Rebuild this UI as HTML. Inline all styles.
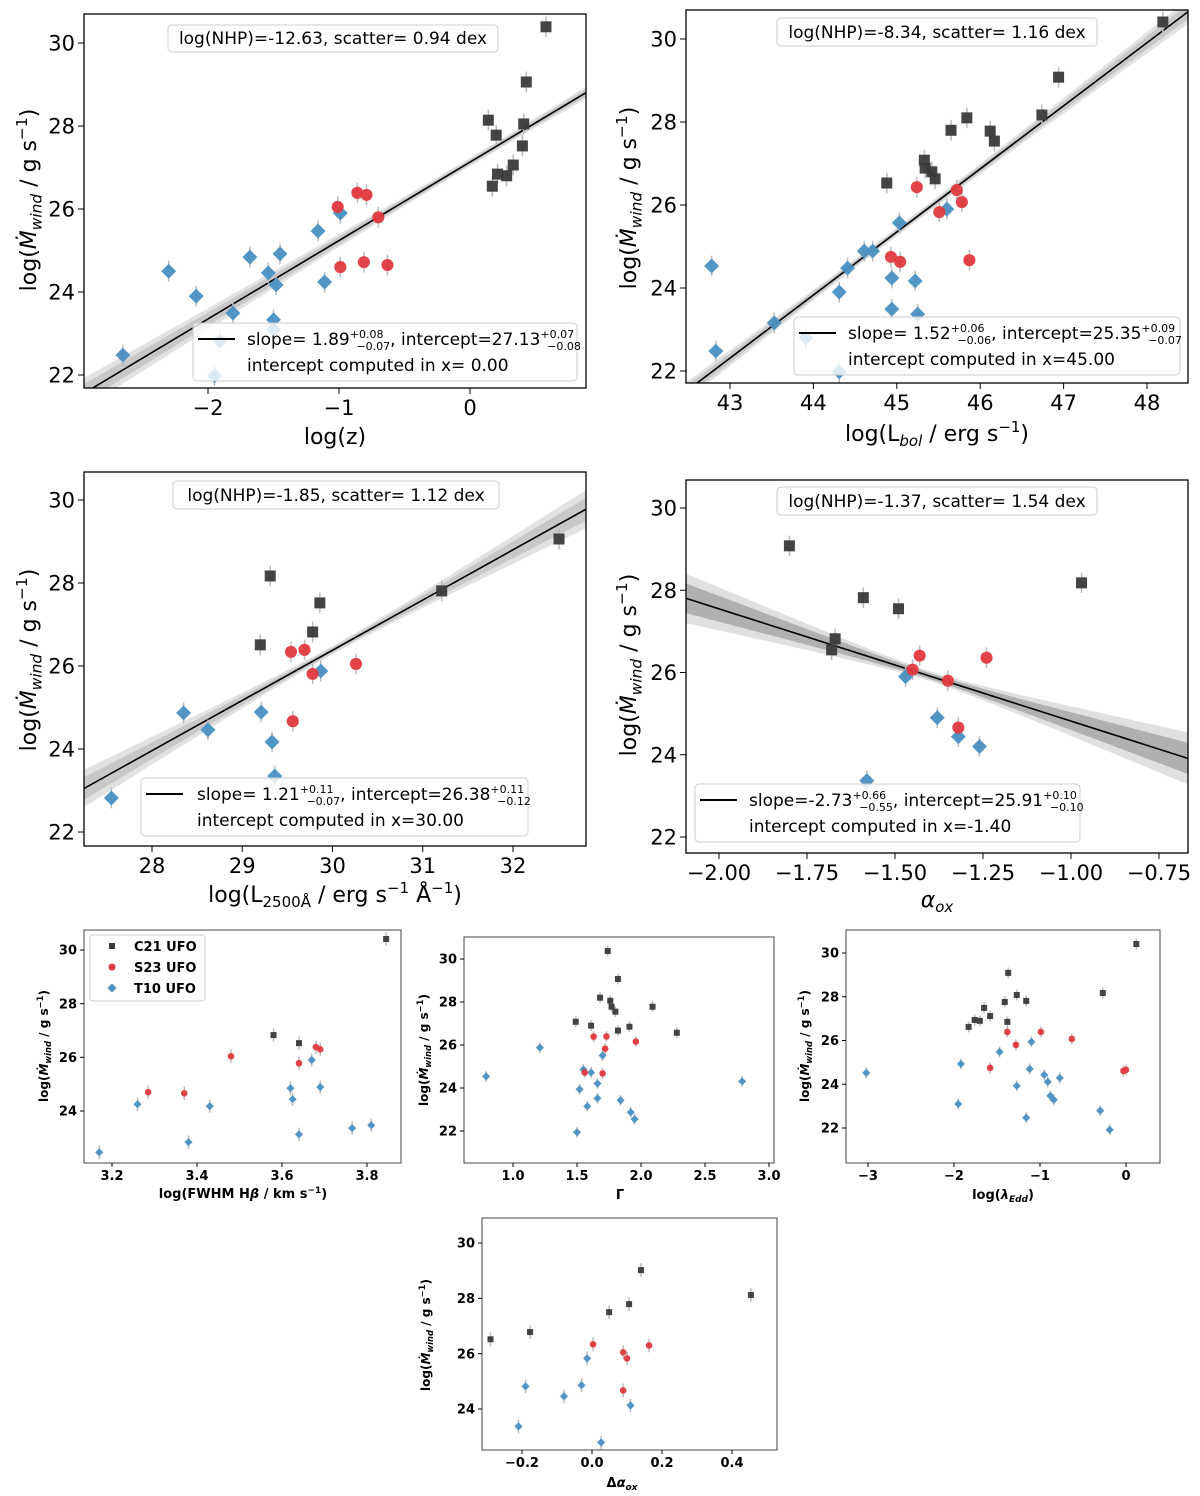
<!DOCTYPE html>
<html><head><meta charset="utf-8"><title>Mdot wind correlations</title>
<style>
html,body{margin:0;padding:0;background:#fff;}
svg{display:block;font-family:"DejaVu Sans","Liberation Sans",sans-serif;}
</style></head>
<body>
<svg id="fig" width="1200" height="1496" viewBox="0 0 1200 1496" xmlns="http://www.w3.org/2000/svg"></svg>
<script>
// ---------- DATA ----------
const p1_c21_x=[0.58,0.43,0.41,0.14,0.2,0.4,0.33,0.21,0.28,0.17];
const p1_c21_y=[30.39,29.06,28.05,28.14,27.78,27.52,27.06,26.84,26.8,26.55];
const p1_s23_x=[-1.01,-0.86,-0.79,-0.7,-0.99,-0.81,-0.63];
const p1_s23_y=[26.05,26.39,26.34,25.8,24.6,24.72,24.65];
const p1_t10_x=[-2.65,-2.3,-2.09,-1.81,-1.68,-1.54,-1.48,-1.45,-1.5,-1.91,-1.95,-1.5,-1.16,-1.11,-0.99];
const p1_t10_y=[22.48,24.5,23.9,23.49,24.84,24.46,24.17,24.92,23.33,22.82,21.98,23.1,25.47,24.24,25.9];
const p1_xticks=[-2,-1,0];
const p1_yticks=[22,24,26,28,30];
const p2_c21_x=[48.19,46.94,46.74,45.84,45.65,46.12,46.17,45.33,45.34,45.42,45.46,44.88];
const p2_c21_y=[30.41,29.08,28.17,28.1,27.8,27.78,27.54,27.08,26.89,26.8,26.63,26.53];
const p2_s23_x=[45.24,45.72,45.78,45.51,44.93,45.04,45.87];
const p2_s23_y=[26.43,26.36,26.07,25.83,24.75,24.63,24.67];
const p2_t10_x=[42.78,42.83,43.53,43.91,44.31,44.31,44.41,44.61,44.71,45.03,45.6,44.94,44.94,45.22,45.25];
const p2_t10_y=[24.53,22.48,23.16,22.8,21.98,23.9,24.48,24.89,24.89,25.57,25.9,24.24,23.49,24.17,23.37];
const p2_xticks=[43,44,45,46,47,48];
const p2_yticks=[22,24,26,28,30];
const p3_c21_x=[32.51,31.21,29.31,29.86,29.78,29.2];
const p3_c21_y=[29.06,27.81,28.17,27.52,26.82,26.51];
const p3_s23_x=[29.54,29.69,30.26,29.78,29.56];
const p3_s23_y=[26.34,26.39,26.05,25.81,24.67];
const p3_t10_x=[27.55,28.35,28.62,29.21,29.33,29.36,29.87];
const p3_t10_y=[22.82,24.87,24.46,24.89,24.17,23.35,25.88];
const p3_xticks=[28,29,30,31,32];
const p3_yticks=[22,24,26,28,30];
const p4_c21_x=[-1.8,-0.97,-1.59,-1.49,-1.67,-1.68];
const p4_c21_y=[29.08,28.18,27.82,27.55,26.82,26.55];
const p4_s23_x=[-1.43,-1.24,-1.45,-1.35,-1.32];
const p4_s23_y=[26.41,26.36,26.07,25.8,24.66];
const p4_t10_x=[-1.47,-1.38,-1.32,-1.26,-1.58];
const p4_t10_y=[25.9,24.9,24.44,24.2,23.37];
const p4_xticks=[-2,-1.75,-1.5,-1.25,-1,-0.75];
const p4_yticks=[22,24,26,28,30];
const p5_c21_x=[3.845,3.58,3.64];
const p5_c21_y=[30.41,26.83,26.53];
const p5_s23_x=[3.285,3.48,3.68,3.69,3.64,3.37];
const p5_s23_y=[24.7,26.04,26.38,26.3,25.78,24.66];
const p5_t10_x=[3.17,3.26,3.38,3.43,3.62,3.625,3.67,3.69,3.64,3.765,3.81];
const p5_t10_y=[22.46,24.25,22.84,24.18,24.85,24.44,25.9,24.89,23.13,23.36,23.47];
const p5_xticks=[3.2,3.4,3.6,3.8];
const p5_yticks=[24,26,28,30];
const p6_c21_x=[1.74,1.82,1.68,1.76,1.77,1.8,1.49,1.61,1.91,2.09,2.28,1.82];
const p6_c21_y=[30.37,29.07,28.2,28.06,27.78,27.55,27.08,26.9,26.85,27.78,26.57,26.67];
const p6_s23_x=[1.63,1.72,1.96,1.7,1.56,1.73];
const p6_s23_y=[26.39,25.83,26.16,24.68,24.72,26.4];
const p6_t10_x=[0.79,1.21,1.7,1.52,1.58,1.5,1.66,1.66,1.55,1.61,1.84,1.92,1.95,2.79];
const p6_t10_y=[24.54,25.88,25.51,23.94,23.15,21.94,23.52,24.21,24.86,24.72,23.43,22.87,22.55,24.31];
const p6_xticks=[1.0,1.5,2.0,2.5,3.0];
const p6_yticks=[22,24,26,28,30];
const p7_c21_x=[0.12,-0.27,-1.37,-1.27,-1.41,-1.16,-1.65,-1.58,-1.76,-1.7,-1.83,-1.38];
const p7_c21_y=[30.41,28.17,29.09,28.08,27.76,27.81,27.49,27.12,26.94,26.9,26.62,26.85];
const p7_s23_x=[-0.99,-1.28,-0.63,-1.58,-1.38,-0.03,0];
const p7_s23_y=[26.39,25.8,26.07,24.75,26.39,24.61,24.66];
const p7_t10_x=[-3.02,-1.92,-1.95,-1.47,-1.27,-1.12,-1.1,-1.16,-0.95,-0.91,-0.77,-0.88,-0.84,-0.3,-0.19];
const p7_t10_y=[24.52,24.93,23.1,25.48,23.93,24.7,25.94,22.47,24.43,24.11,24.29,23.47,23.29,22.79,21.92];
const p7_xticks=[-3,-2,-1,0];
const p7_yticks=[22,24,26,28,30];
const p8_c21_x=[0.14,0.106,0.049,-0.177,-0.29,0.454];
const p8_c21_y=[29.02,27.79,27.5,26.78,26.52,28.12];
const p8_s23_x=[0.003,0.089,0.1,0.163,0.089];
const p8_s23_y=[26.34,26.05,25.83,26.3,24.67];
const p8_t10_x=[-0.014,-0.03,-0.19,-0.08,0.11,-0.21,0.026];
const p8_t10_y=[25.83,24.86,24.82,24.46,24.13,23.37,22.79];
const p8_xticks=[-0.2,0.0,0.2,0.4];
const p8_yticks=[24,26,28,30];
const p1_fit=[1.89,27.13,0.0];
const p2_fit=[1.52,25.35,45.0];
const p3_fit=[1.21,26.38,30.0];
const p4_fit=[-2.73,25.91,-1.40];

// ---------- DRAWING ----------
const NS="http://www.w3.org/2000/svg";
const svg=document.getElementById('fig');
function el(tag,attrs,parent){const e=document.createElementNS(NS,tag);for(const k in attrs)e.setAttribute(k,attrs[k]);(parent||svg).appendChild(e);return e;}
function lin(v0,p0,v1,p1){return v=>p0+(v-v0)*(p1-p0)/(v1-v0);}
const CBLK='#3a3a3a',CRED='#e0393e',CBLU='#4a90c2';
function fmt(v,d){let s=v.toFixed(d);return s.replace('-','\u2212');}

let clipId=0;
function panel(cfg){
  const g=el('g',{});
  
  
  const b=cfg.box;
  const X=lin(cfg.xa[0],cfg.xa[1],cfg.xa[2],cfg.xa[3]);
  const Y=lin(cfg.ya[0],cfg.ya[1],cfg.ya[2],cfg.ya[3]);
  const id='c'+(clipId++);
  const cp=el('clipPath',{id:id},g);el('rect',{x:b[0],y:b[1],width:b[2]-b[0],height:b[3]-b[1]},cp);
  const plot=el('g',{'clip-path':'url(#'+id+')'},g);
  if(cfg.fit){
    const [m,c,x0]=cfg.fit;const xl=cfg.xr[0],xr=cfg.xr[1];
    const bands=[[cfg.bw[0],cfg.bw[1],cfg.bandC[0]],[cfg.bw[0]*0.6,cfg.bw[1]*0.6,cfg.bandC[1]]];
    bands.forEach((bd,bi)=>{
      const up=[],dn=[];
      for(let i=0;i<=60;i++){const x=xl+(xr-xl)*i/60;const w=Math.sqrt(bd[0]*bd[0]+Math.pow(bd[1]*(x-x0),2));const yy=c+m*(x-x0);
        up.push(X(x).toFixed(1)+','+Y(yy+w).toFixed(1));dn.unshift(X(x).toFixed(1)+','+Y(yy-w).toFixed(1));}
      const p=el('polygon',{points:up.concat(dn).join(' '),fill:bd[2]},plot);
      
      
    });
    const ln=el('line',{x1:X(xl),y1:Y(c+m*(xl-x0)),x2:X(xr),y2:Y(c+m*(xr-x0)),stroke:'#000','stroke-width':1.6},plot);
    
    
  }
  const s=cfg.ms;
  const series=[[cfg.t10x,cfg.t10y,'d',CBLU,'t10'],[cfg.c21x,cfg.c21y,'s',CBLK,'c21'],[cfg.s23x,cfg.s23y,'o',CRED,'s23']];
  series.forEach(sr=>{for(let i=0;i<sr[0].length;i++){const px=X(sr[0][i]);
    const eb=el('line',{x1:px,x2:px,y1:Y(sr[1][i]+0.25),y2:Y(sr[1][i]-0.25),stroke:'#bbb','stroke-width':1.5},plot);
    
    }});
  series.forEach(sr=>{for(let i=0;i<sr[0].length;i++){const px=X(sr[0][i]),py=Y(sr[1][i]);let m;
    if(sr[2]==='s')m=el('rect',{x:px-s/2,y:py-s/2,width:s,height:s,fill:sr[3],opacity:0.95},plot);
    else if(sr[2]==='o')m=el('circle',{cx:px,cy:py,r:s*0.55,fill:sr[3],opacity:0.95},plot);
    else {const r=s*0.68;m=el('polygon',{points:`${px},${py-r} ${px+r},${py} ${px},${py+r} ${px-r},${py}`,fill:sr[3],opacity:0.95},plot);}
    
    }});
  el('rect',{x:b[0],y:b[1],width:b[2]-b[0],height:b[3]-b[1],fill:'none',stroke:cfg.big?'#000':'#444','stroke-width':cfg.big?1.3:1},g);
  const tl=cfg.big?6:4,fs=cfg.big?21:13,fw=cfg.big?'normal':'bold';
  cfg.xt.forEach(v=>{const px=X(v);el('line',{x1:px,x2:px,y1:b[3],y2:b[3]+tl,stroke:'#000'},g);
    const t=el('text',{x:px,y:b[3]+tl+fs,'text-anchor':'middle','font-size':fs,'font-weight':fw,fill:'#000'},g);t.textContent=fmt(v,cfg.xd);
    
    });
  cfg.yt.forEach(v=>{const py=Y(v);el('line',{x1:b[0]-tl,x2:b[0],y1:py,y2:py,stroke:'#000'},g);
    const t=el('text',{x:b[0]-tl-3,y:py+fs*0.36,'text-anchor':'end','font-size':fs,'font-weight':fw,fill:'#000'},g);t.textContent=fmt(v,0);
    
    });
  return g;
}
function ylabel(x,y,fs,bold){
  const t=el('text',{transform:`translate(${x},${y}) rotate(-90)`,'text-anchor':'middle','font-size':fs,'font-weight':bold?'bold':'normal',fill:'#000'});
  
  
  t.innerHTML=`log(<tspan font-style="italic">\u1E40</tspan><tspan font-style="italic" font-size="${fs*0.7}" dy="${fs*0.25}">wind</tspan><tspan dy="${-fs*0.25}"> / g s</tspan><tspan font-size="${fs*0.7}" dy="${-fs*0.4}">\u22121</tspan><tspan dy="${fs*0.4}">)</tspan>`;
}
function xlabel(x,y,fs,html,bold){
  const t=el('text',{x:x,y:y,'text-anchor':'middle','font-size':fs,'font-weight':bold?'bold':'normal',fill:'#000'});
  
  
  t.innerHTML=html;
}
function nhp(x0,y0,x1,y1,txt){
  const r=el('rect',{x:x0,y:y0,width:x1-x0,height:y1-y0,rx:4,fill:'#fff','fill-opacity':0.8,stroke:'#ccc'});
  
  
  const t=el('text',{x:(x0+x1)/2,y:y1-8,'text-anchor':'middle','font-size':17,fill:'#000'});t.textContent=txt;
  
  
}
function fitLegend(x0,y0,x1,y1,tx,sl,su,sd,ic,iu,id,xs){
  const r=el('rect',{x:x0,y:y0,width:x1-x0,height:y1-y0,rx:4,fill:'#fff','fill-opacity':0.8,stroke:'#ccc'});
  
  
  el('line',{x1:x0+5,x2:x0+42,y1:y0+16,y2:y0+16,stroke:'#000','stroke-width':2});
  const t=el('text',{x:tx,y:y0+22,'font-size':17,fill:'#000'});
  t.innerHTML=`slope=${sl}<tspan font-size="11" dy="-7">${su}</tspan><tspan font-size="11" dx="-27" dy="12">${sd}</tspan><tspan dy="-5">, intercept=${ic}</tspan><tspan font-size="11" dy="-7">${iu}</tspan><tspan font-size="11" dx="-27" dy="12">${id}</tspan>`;
  
  
  const t2=el('text',{x:tx,y:y0+48,'font-size':17,fill:'#000'});t2.textContent='intercept computed in x='+xs;
  
  
}

panel({name:'panel-log-z',big:true,box:[84,14,586,388],xa:[-2,208,0,470],ya:[30,43,22,375],xr:[-3.0,0.95],
 fit:p1_fit,bw:[0.1,0.12],bandC:['#e2e2e2','#c8c8c8'],ms:11,xd:0,xt:p1_xticks,yt:p1_yticks,
 c21x:p1_c21_x,c21y:p1_c21_y,s23x:p1_s23_x,s23y:p1_s23_y,t10x:p1_t10_x,t10y:p1_t10_y});
nhp(168,25,498,52,'log(NHP)=-12.63, scatter= 0.94 dex');
fitLegend(193,323,577,381,247,' 1.89','+0.08','\u22120.07','27.13','+0.07','\u22120.08',' 0.00');
ylabel(36,200,22);xlabel(335,444,22,'log(z)');

panel({name:'panel-lbol',big:true,box:[686,10,1188,383],xa:[43,730,48,1147],ya:[30,39,22,371],xr:[42.4,48.6],
 fit:p2_fit,bw:[0.1,0.08],bandC:['#e2e2e2','#c8c8c8'],ms:11,xd:0,xt:p2_xticks,yt:p2_yticks,
 c21x:p2_c21_x,c21y:p2_c21_y,s23x:p2_s23_x,s23y:p2_s23_y,t10x:p2_t10_x,t10y:p2_t10_y});
nhp(777,18,1097,46,'log(NHP)=-8.34, scatter= 1.16 dex');
fitLegend(794,317,1180,375,848,' 1.52','+0.06','\u22120.06','25.35','+0.09','\u22120.07','45.00');
ylabel(636,198,22);xlabel(937,441,22,'log(L<tspan font-style="italic" font-size="15" dy="5">bol</tspan><tspan dy="-5"> / erg s</tspan><tspan font-size="15" dy="-9">\u22121</tspan><tspan dy="9">)</tspan>');

panel({name:'panel-l2500',big:true,box:[84,472,586,846],xa:[28,152,32,513],ya:[30,500,22,832],xr:[27.2,32.9],
 fit:p3_fit,bw:[0.1,0.16],bandC:['#e2e2e2','#c8c8c8'],ms:11,xd:0,xt:p3_xticks,yt:p3_yticks,
 c21x:p3_c21_x,c21y:p3_c21_y,s23x:p3_s23_x,s23y:p3_s23_y,t10x:p3_t10_x,t10y:p3_t10_y});
nhp(173,481,499,509,'log(NHP)=-1.85, scatter= 1.12 dex');
fitLegend(141,778,528,836,197,' 1.21','+0.11','\u22120.07','26.38','+0.11','\u22120.12','30.00');
ylabel(36,660,22);xlabel(335,902,22,'log(L<tspan font-size="15" dy="5">2500\u00C5</tspan><tspan dy="-5"> / erg s</tspan><tspan font-size="15" dy="-9">\u22121</tspan><tspan dy="9"> \u00C5</tspan><tspan font-size="15" dy="-9">\u22121</tspan><tspan dy="9">)</tspan>');

panel({name:'panel-alpha-ox',big:true,box:[686,480,1188,853],xa:[-2,719,-1,1071],ya:[30,508,22,837],xr:[-2.1,-0.62],
 fit:p4_fit,bw:[0.12,0.85],bandC:['#e0e0e0','#b0b0b0'],ms:11,xd:2,xt:p4_xticks,yt:p4_yticks,
 c21x:p4_c21_x,c21y:p4_c21_y,s23x:p4_s23_x,s23y:p4_s23_y,t10x:p4_t10_x,t10y:p4_t10_y});
nhp(777,487,1097,515,'log(NHP)=-1.37, scatter= 1.54 dex');
fitLegend(695,784,1080,842,749,'-2.73','+0.66','\u22120.55','25.91','+0.10','\u22120.10','-1.40');
ylabel(636,665,22);xlabel(937,907,22,'<tspan font-style="italic">\u03B1</tspan><tspan font-style="italic" font-size="15" dy="5">ox</tspan>');

panel({name:'panel-fwhm-hbeta',big:false,box:[84,930,401,1163],xa:[3.2,112,3.8,367],ya:[30,950,24,1111],xr:[3.1,3.9],
 ms:6,xd:1,xt:p5_xticks,yt:p5_yticks,
 c21x:p5_c21_x,c21y:p5_c21_y,s23x:p5_s23_x,s23y:p5_s23_y,t10x:p5_t10_x,t10y:p5_t10_y});
ylabel(48,1046,12,true);xlabel(243,1198,13,'log(FWHM H<tspan font-style="italic">\u03B2</tspan> / km s<tspan font-size="9" dy="-5">\u22121</tspan><tspan dy="5">)</tspan>',true);
(function(){
  const r=el('rect',{x:90,y:935,width:115,height:66,rx:3,fill:'#fff',stroke:'#ccc'});
  
  
  const ent=[['C21 UFO',CBLK,'s'],['S23 UFO',CRED,'o'],['T10 UFO',CBLU,'d']];
  ent.forEach((e,i)=>{const y=946+i*21;let m;
    if(e[2]==='s')m=el('rect',{x:109,y:y-3,width:6,height:6,fill:e[1]});
    else if(e[2]==='o')m=el('circle',{cx:112,cy:y,r:3.5,fill:e[1]});
    else m=el('polygon',{points:`112,${y-4.5} 116.5,${y} 112,${y+4.5} 107.5,${y}`,fill:e[1]});
    
    
    const t=el('text',{x:134,y:y+5,'font-size':13,'font-weight':'bold',fill:'#000'});t.textContent=e[0];
    
    });
})();

panel({name:'panel-gamma',big:false,box:[464,937,774,1163],xa:[1,513,3,769],ya:[30,959,22,1131],xr:[0.5,3.1],
 ms:6,xd:1,xt:p6_xticks,yt:p6_yticks,
 c21x:p6_c21_x,c21y:p6_c21_y,s23x:p6_s23_x,s23y:p6_s23_y,t10x:p6_t10_x,t10y:p6_t10_y});
ylabel(428,1050,12,true);xlabel(620,1199,13,'\u0393',true);

panel({name:'panel-lambda-edd',big:false,box:[846,930,1160,1163],xa:[-3,868,0,1126],ya:[30,953,22,1128],xr:[-3.3,0.4],
 ms:6,xd:0,xt:p7_xticks,yt:p7_yticks,
 c21x:p7_c21_x,c21y:p7_c21_y,s23x:p7_s23_x,s23y:p7_s23_y,t10x:p7_t10_x,t10y:p7_t10_y});
ylabel(809,1046,12,true);xlabel(1003,1199,13,'log(<tspan font-style="italic">\u03BB</tspan><tspan font-style="italic" font-size="9" dy="3">Edd</tspan><tspan dy="-3">)</tspan>',true);

panel({name:'panel-delta-alpha-ox',big:false,box:[482,1218,777,1450],xa:[-0.2,522,0.4,732],ya:[30,1243,24,1409],xr:[-0.4,0.6],
 ms:6,xd:1,xt:p8_xticks,yt:p8_yticks,
 c21x:p8_c21_x,c21y:p8_c21_y,s23x:p8_s23_x,s23y:p8_s23_y,t10x:p8_t10_x,t10y:p8_t10_y});
ylabel(430,1335,12,true);xlabel(622,1487,13,'\u0394<tspan font-style="italic">\u03B1</tspan><tspan font-style="italic" font-size="9" dy="3">ox</tspan>',true);
</script>
</body></html>
